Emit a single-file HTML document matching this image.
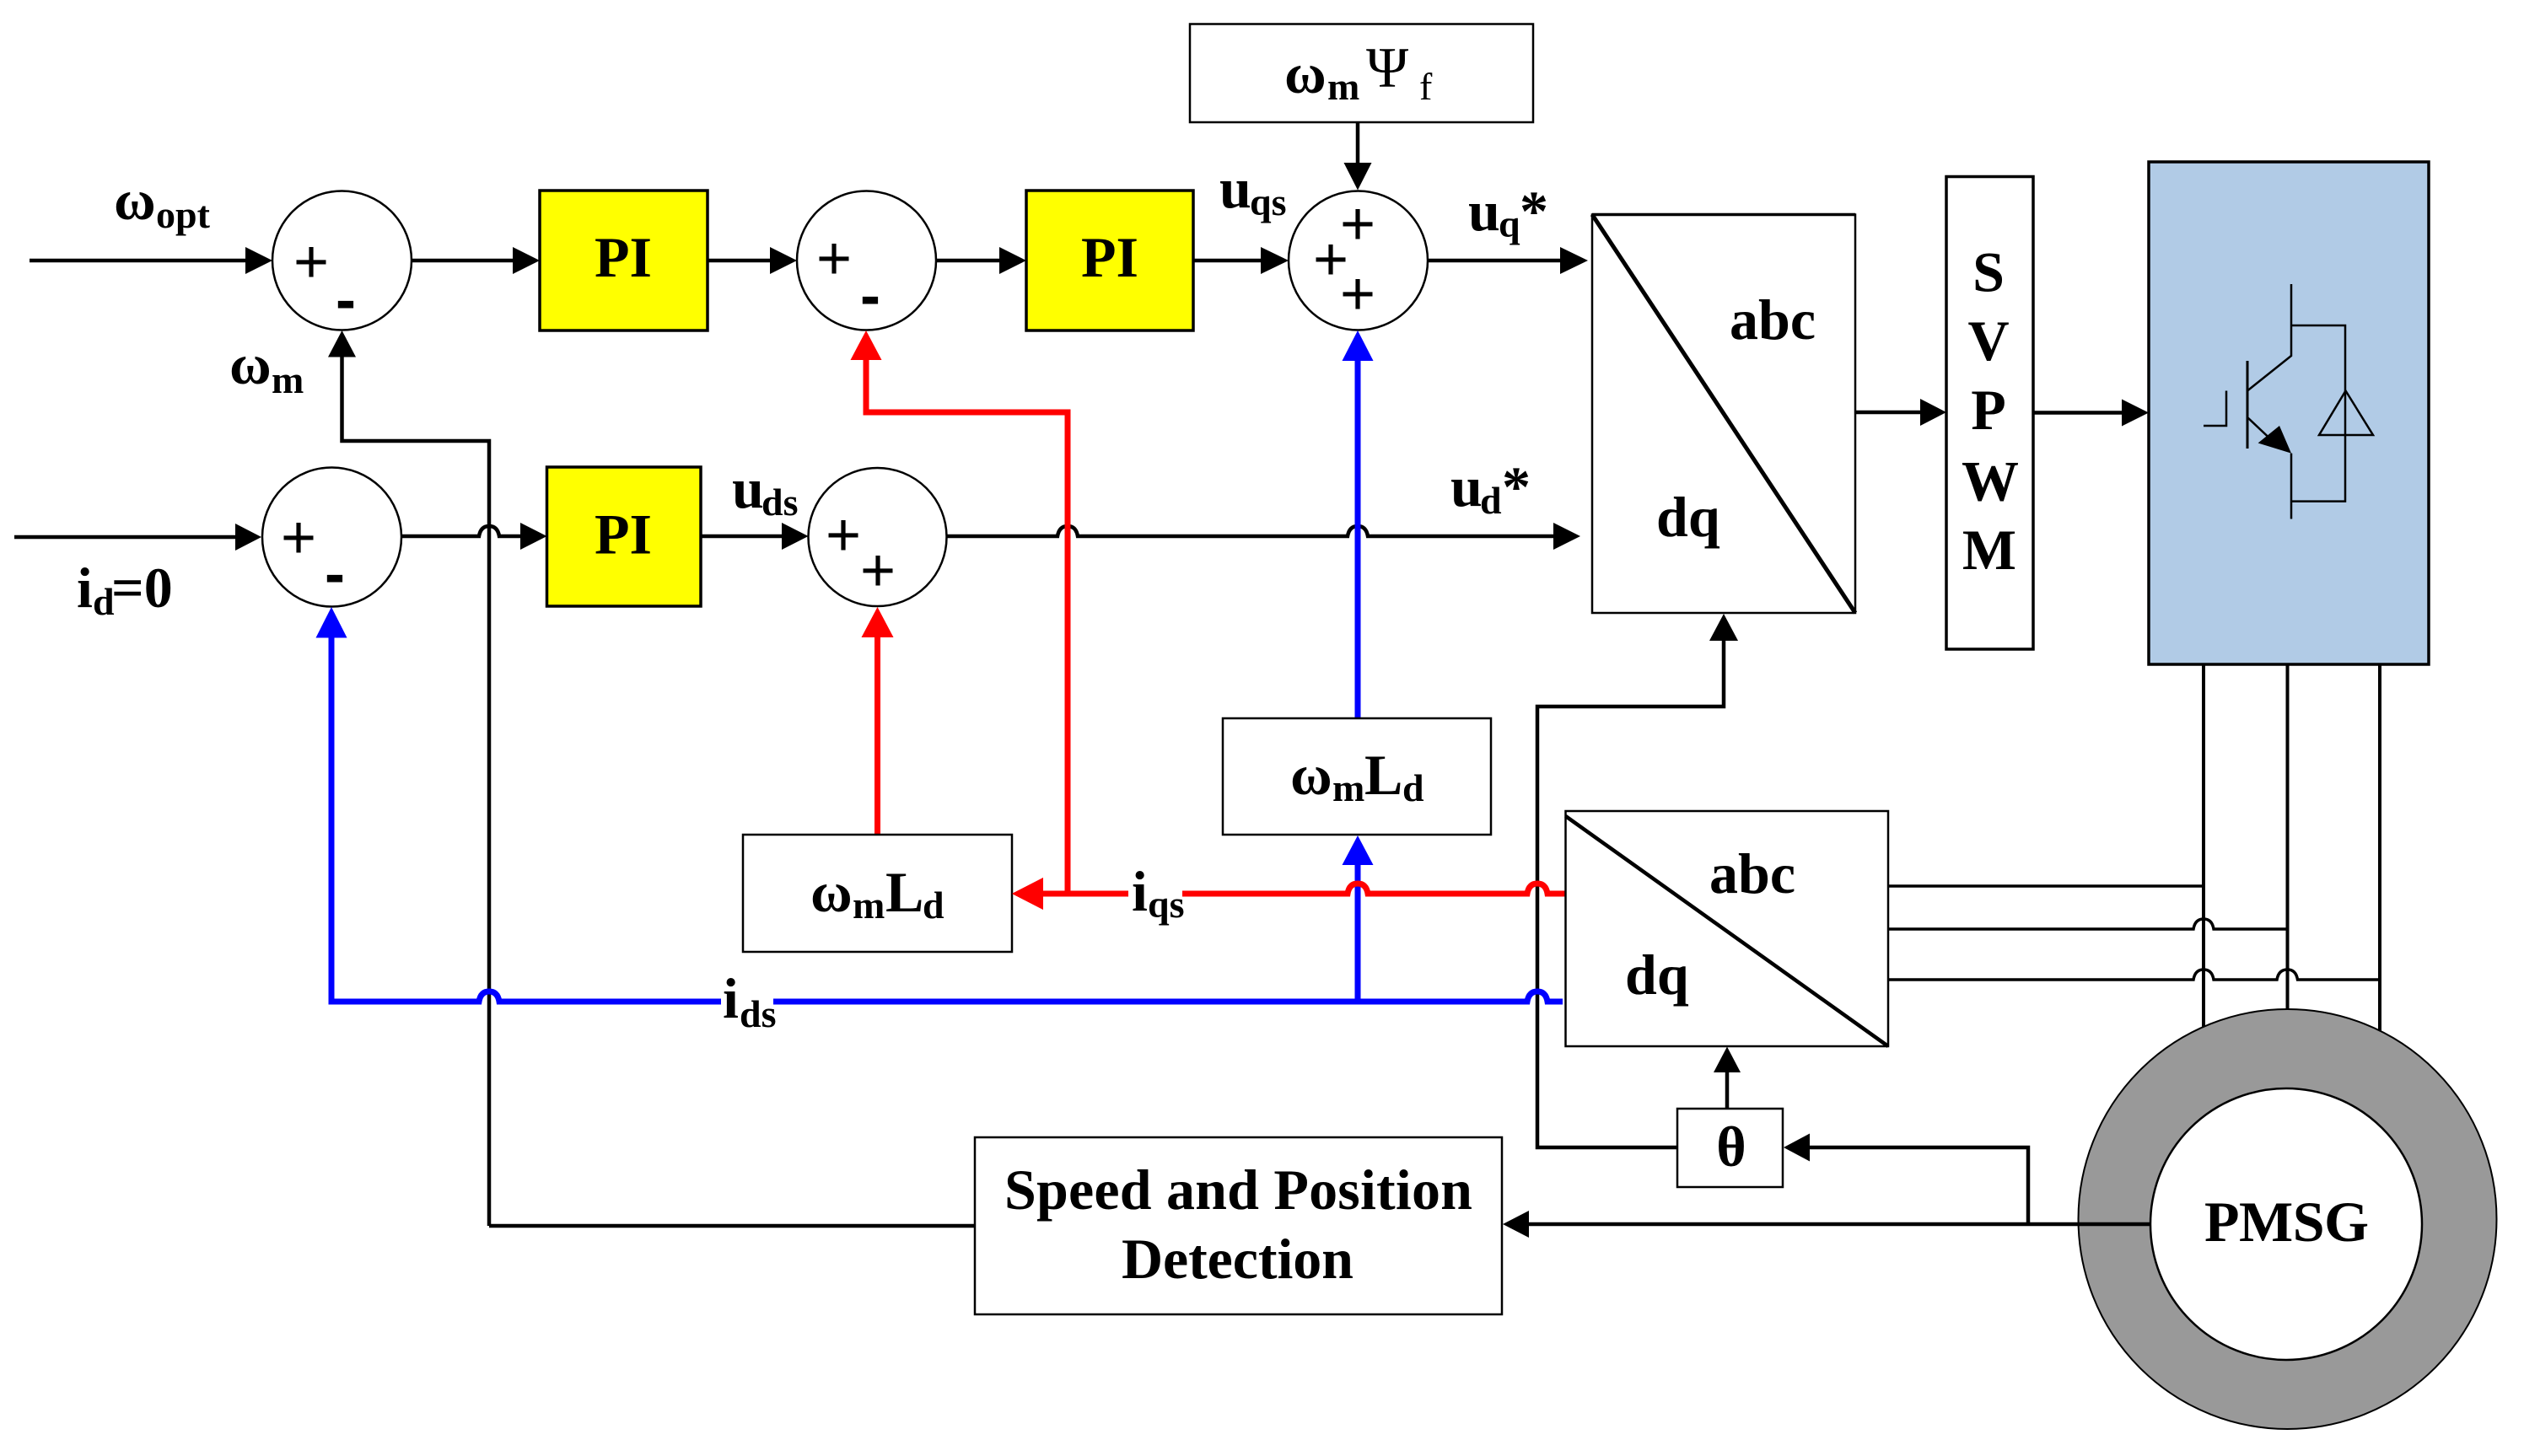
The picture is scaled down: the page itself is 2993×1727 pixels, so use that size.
<!DOCTYPE html>
<html><head><meta charset="utf-8">
<style>
html,body{margin:0;padding:0;background:#fff}
svg{display:block}
text{font-family:"Liberation Serif",serif;font-weight:700;fill:#000}
.m{font-size:68px}
.s{font-size:46px}
.p{font-family:"Liberation Sans",sans-serif;font-weight:400;font-size:72px;text-anchor:middle}
.n{font-family:"Liberation Sans",sans-serif;font-weight:700;font-size:72px;text-anchor:middle}
.c{text-anchor:middle}
</style></head>
<body>
<svg width="2993" height="1727" viewBox="0 0 2993 1727" xmlns="http://www.w3.org/2000/svg">
<rect width="2993" height="1727" fill="#fff"/>

<!-- wires behind motor -->
<g fill="none" stroke="#000" stroke-width="4">
<path d="M2613 788V1240"/>
<path d="M2712.5 788V1210"/>
<path d="M2822 788V1240"/>
<path d="M2239 1051H2613" stroke-width="3.5"/>
<path d="M2239 1102H2601q2 -12 12 -12q10 0 12 12H2712.5" stroke-width="3.5"/>
<path d="M2239 1162H2601q2 -12 12 -12q10 0 12 12H2700q2 -12 12.5 -12q10 0 12 12H2822" stroke-width="3.5"/>
</g>

<!-- motor -->
<ellipse cx="2712.5" cy="1446" rx="248" ry="249" fill="#999" stroke="#000" stroke-width="2"/>
<circle cx="2711" cy="1452" r="161" fill="#fff" stroke="#000" stroke-width="2.5"/>

<!-- circles -->
<g fill="#fff" stroke="#000" stroke-width="2.5">
<circle cx="405.5" cy="309" r="82.5"/>
<circle cx="1027.5" cy="309" r="82.5"/>
<circle cx="1610.5" cy="309" r="82.5"/>
<circle cx="393.5" cy="637" r="82.5"/>
<circle cx="1040.5" cy="637" r="82"/>
</g>

<!-- black connectors -->
<g fill="none" stroke="#000" stroke-width="4.5">
<path d="M35 309H295"/>
<path d="M488 309H612"/>
<path d="M839 309H917"/>
<path d="M1110 309H1189"/>
<path d="M1415 309H1499"/>
<path d="M1693 309H1854"/>
<path d="M1610 145V197"/>
<path d="M17 637H283"/>
<path d="M476 636H568q2 -12 12 -12q10 0 12 12H621"/>
<path d="M831 636H931"/>
<path d="M1122 636H1254q2 -12 12 -12q10 0 12 12H1598q2 -12 12 -12q10 0 12 12H1846"/>
<path d="M580 1454V523H405.5V420"/>
<path d="M580 1454H1156"/>
<path d="M1988 1361H1823V838H2044V756"/>
<path d="M2048 1315V1268"/>
<path d="M2405 1452V1361H2142"/>
<path d="M2550 1452H1809"/>
<path d="M2200 489H2281"/>
<path d="M2411 489.5H2520"/>
</g>
<g fill="#000">
<polygon points="323,309 291,293 291,325"/>
<polygon points="640,309 608,293 608,325"/>
<polygon points="945,309 913,293 913,325"/>
<polygon points="1217,309 1185,293 1185,325"/>
<polygon points="1528,309 1495,293 1495,325"/>
<polygon points="1883,309 1850,293 1850,325"/>
<polygon points="1610,225.5 1593.5,193 1626.5,193"/>
<polygon points="310,637 279,621 279,653"/>
<polygon points="648.5,636 617,620 617,652"/>
<polygon points="958.5,636 927,620 927,652"/>
<polygon points="1874,636 1842,620 1842,652"/>
<polygon points="405.5,392 389,423.5 422,423.5"/>
<polygon points="2044,728 2027,760 2061,760"/>
<polygon points="2048,1241.5 2032,1272 2064,1272"/>
<polygon points="2115,1361 2146,1344.5 2146,1377.5"/>
<polygon points="1782,1452 1813,1436 1813,1468"/>
<polygon points="2308,489 2277,473 2277,505"/>
<polygon points="2548,489.5 2516,473.5 2516,505.5"/>
</g>

<!-- red connectors -->
<g fill="none" stroke="#f00" stroke-width="7">
<path d="M1040.5 990V750"/>
<path d="M1266 1060V489H1027V422"/>
<path d="M1338 1060H1232"/>
</g>
<g fill="#f00">
<polygon points="1040.5,720 1021.5,756 1059.5,756"/>
<polygon points="1027,392 1008.5,427 1045.5,427"/>
<polygon points="1200,1060 1237,1041 1237,1079"/>
</g>

<!-- blue connectors -->
<g fill="none" stroke="#00f" stroke-width="7">
<path d="M1610 852V422"/>
<path d="M393 750V1188H568q2 -12 12 -12q10 0 12 12H855"/>
<path d="M917 1188H1811q2 -12 12 -12q10 0 12 12H1853"/>
<path d="M1610 1188V1020"/>
</g>
<g fill="#00f">
<polygon points="1610,392 1591.5,428 1628.5,428"/>
<polygon points="393,720 374.5,756.5 411.5,756.5"/>
<polygon points="1610,991 1591.5,1026 1628.5,1026"/>
</g>
<!-- red line east of iqs, hops over blue -->
<path d="M1402 1060H1598q2 -12 12 -12q10 0 12 12H1811q2 -12 12 -12q10 0 12 12H1856" fill="none" stroke="#f00" stroke-width="7"/>

<!-- boxes -->
<g stroke="#000" stroke-width="3.5" fill="#ff0">
<rect x="640" y="226" width="199" height="166"/>
<rect x="1217" y="226" width="198" height="166"/>
<rect x="648.5" y="554" width="182.5" height="165"/>
</g>
<g stroke="#000" stroke-width="2.5" fill="#fff">
<rect x="1411" y="28.5" width="407" height="116.5"/>
<rect x="881" y="990" width="319" height="139"/>
<rect x="1450" y="852" width="318" height="138"/>
<rect x="1156" y="1349" width="625" height="210"/>
<rect x="1989" y="1315" width="125" height="93"/>
<rect x="1888" y="254.5" width="312" height="472.5"/>
<rect x="1856.5" y="962" width="382.5" height="279"/>
<rect x="2308" y="209.5" width="103" height="560.5" stroke-width="3.5"/>
</g>
<path d="M1888 254.5L2200 727" stroke="#000" stroke-width="5" fill="none"/>
<path d="M1856.5 968L2239 1241" stroke="#000" stroke-width="4.5" fill="none"/>
<path d="M1888 254.5H2200" stroke="#000" stroke-width="3.5" fill="none"/>
<!-- red arrow head sits on box edge -->
<polygon points="1200,1060 1237,1041 1237,1079" fill="#f00"/>

<!-- inverter -->
<rect x="2548" y="192" width="332" height="596" fill="#b1cbe6" stroke="#000" stroke-width="3.5"/>
<g fill="none" stroke="#000" stroke-width="2.5">
<path d="M2613 505H2640V463.5"/>
<path d="M2665 428V532" stroke-width="3"/>
<path d="M2717 337V422L2665 463.5"/>
<path d="M2665 495L2700 528"/>
<path d="M2717 537.6V615.5"/>
<path d="M2717 386H2781V594.6H2717"/>
<path d="M2781.5 463.5L2750 516H2814Z"/>
</g>
<polygon points="2717,537.6 2703,505 2677.6,525.5" fill="#000"/>

<!-- plus and minus signs -->
<text class="p" x="369" y="335">+</text>
<text class="n" x="410" y="380">-</text>
<text class="p" x="989" y="331">+</text>
<text class="n" x="1032" y="375">-</text>
<text class="p" x="1610" y="290">+</text>
<text class="p" x="1578" y="332">+</text>
<text class="p" x="1610" y="373">+</text>
<text class="p" x="354" y="662">+</text>
<text class="n" x="397" y="705">-</text>
<text class="p" x="1000" y="659">+</text>
<text class="p" x="1041" y="701">+</text>

<!-- block labels -->
<text class="m c" x="739" y="328">PI</text>
<text class="m c" x="1316" y="328">PI</text>
<text class="m c" x="739" y="656.5">PI</text>
<text class="m" x="2051" y="402">abc</text>
<text class="m" x="1964" y="636">dq</text>
<text class="m" x="2027" y="1059">abc</text>
<text class="m" x="1927" y="1179">dq</text>
<text class="m c" x="2053" y="1383">θ</text>
<text class="m c" x="2358" y="345.5">S</text>
<text class="m c" x="2358" y="427">V</text>
<text class="m c" x="2358" y="509">P</text>
<text class="m c" x="2360" y="593.5">W</text>
<text class="m c" x="2359" y="675">M</text>
<text class="m" x="1191" y="1434" textLength="555">Speed and Position</text>
<text class="m" x="1330" y="1516" textLength="275">Detection</text>
<text class="m" x="2614" y="1472" textLength="195">PMSG</text>

<!-- omega_m Psi f -->
<text class="m" x="1523" y="110">ω</text>
<text class="s" x="1574" y="118">m</text>
<text x="1620" y="103" style="font-size:68px;font-weight:400">Ψ</text>
<text x="1683" y="118" style="font-size:46px;font-weight:400">f</text>

<!-- omega_m L_d -->
<text class="m" x="1530" y="942">ω</text>
<text class="s" x="1580" y="950">m</text>
<text class="m" x="1618" y="942">L</text>
<text class="s" x="1663" y="950">d</text>
<text class="m" x="961" y="1081">ω</text>
<text class="s" x="1011" y="1089">m</text>
<text class="m" x="1050" y="1081">L</text>
<text class="s" x="1094" y="1089">d</text>

<!-- signal labels -->
<text class="m" x="135" y="260">ω</text>
<text class="s" x="185" y="270">opt</text>
<text class="m" x="272" y="455">ω</text>
<text class="s" x="322" y="466">m</text>
<text class="m" x="91" y="720">i</text>
<text class="s" x="110" y="729">d</text>
<text class="m" x="132" y="720">=0</text>
<text class="m" x="868" y="602">u</text>
<text class="s" x="903" y="611">ds</text>
<text class="m" x="1446" y="246">u</text>
<text class="s" x="1482" y="255">qs</text>
<text class="m" x="1741" y="273">u</text>
<text class="s" x="1777" y="281">q</text>
<text class="m" x="1802" y="273">*</text>
<text class="m" x="1720" y="600">u</text>
<text class="s" x="1755" y="609">d</text>
<text class="m" x="1781" y="600">*</text>
<text class="m" x="857" y="1207">i</text>
<text class="s" x="877" y="1218">ds</text>
<text class="m" x="1342" y="1080">i</text>
<text class="s" x="1361" y="1088">qs</text>
</svg>
</body></html>
